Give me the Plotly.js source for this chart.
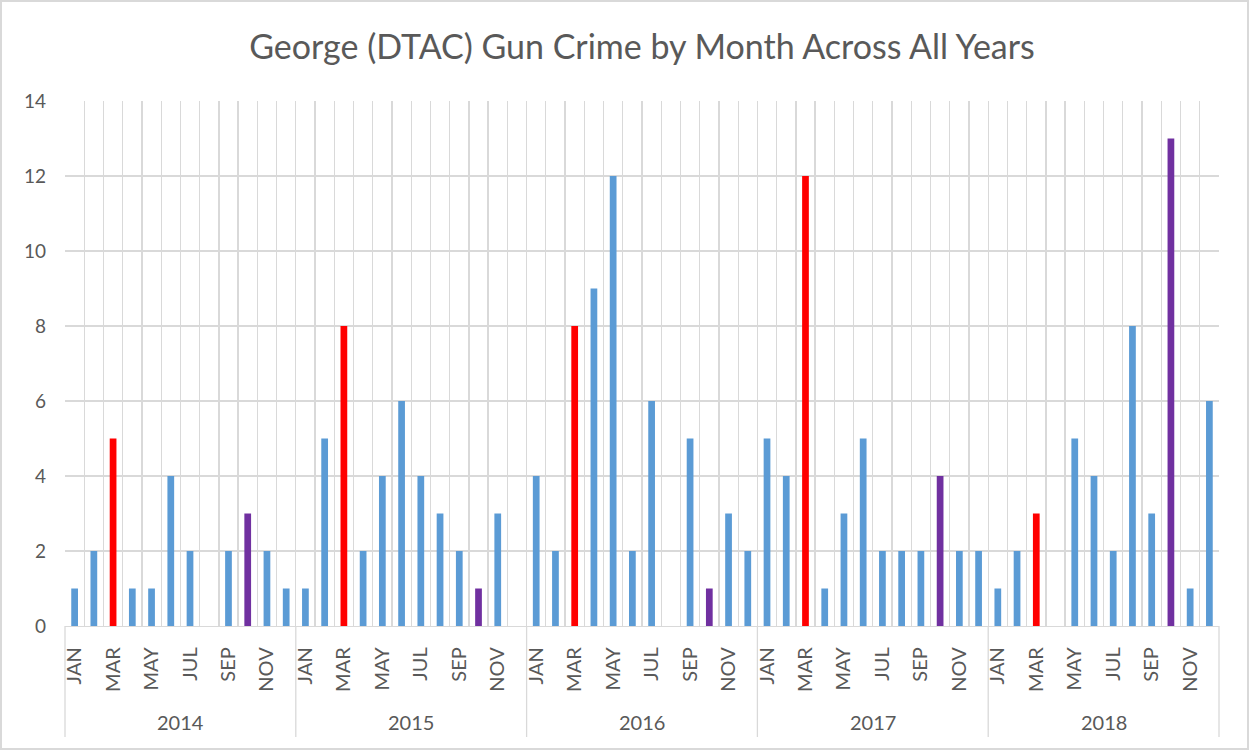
<!DOCTYPE html>
<html>
<head>
<meta charset="utf-8">
<script src="https://cdn.plot.ly/plotly-3.0.1.min.js"></script>
<style>
  html, body { margin: 0; padding: 0; background: #ffffff; }
  #wrap { position: relative; width: 1249px; height: 750px; }
  #chart { position: absolute; left: 0; top: 0; width: 1249px; height: 750px; }
  #frame { position: absolute; left: 0; top: 0; width: 1249px; height: 750px;
           box-sizing: border-box; border: 2px solid #D9D9D9; pointer-events: none; }
</style>
</head>
<body>
<div id="wrap">
  <div id="chart"></div>
  <div id="frame"></div>
</div>
<script>
// Monthly gun crime counts, George (DTAC)
const YEARS  = ['2014', '2015', '2016', '2017', '2018'];
const MONTHS = ['JAN', 'FEB', 'MAR', 'APR', 'MAY', 'JUN', 'JUL', 'AUG', 'SEP', 'OCT', 'NOV', 'DEC'];

const COUNTS_2014 = [1, 2, 5, 1, 1, 4, 2, 0, 2, 3, 2, 1];
const COUNTS_2015 = [1, 5, 8, 2, 4, 6, 4, 3, 2, 1, 3, 0];
const COUNTS_2016 = [4, 2, 8, 9, 12, 2, 6, 0, 5, 1, 3, 2];
const COUNTS_2017 = [5, 4, 12, 1, 3, 5, 2, 2, 2, 4, 2, 2];
const COUNTS_2018 = [1, 2, 3, 0, 5, 4, 2, 8, 3, 13, 1, 6];

// Highlighted months
const MARCH_COLOR   = '#FF0000';
const OCTOBER_COLOR = '#7030A0';
const DEFAULT_COLOR = '#5B9BD5';

const COUNTS = [COUNTS_2014, COUNTS_2015, COUNTS_2016, COUNTS_2017, COUNTS_2018];

const FONT = 'Lato, "Open Sans", sans-serif';
const TEXT_COLOR = '#595959';
const GRID_COLOR = '#D9D9D9';

// Flatten year x month into one running category index
const xs = [], ys = [], colors = [];
COUNTS.forEach((row, yi) => {
  row.forEach((v, mi) => {
    xs.push(yi * MONTHS.length + mi);
    ys.push(v);
    colors.push(MONTHS[mi] === 'MAR' ? MARCH_COLOR : (MONTHS[mi] === 'OCT' ? OCTOBER_COLOR : DEFAULT_COLOR));
  });
});
const nCats = xs.length;

// Month labels on every other month, gridlines on category boundaries
const monthTickVals = [], monthTickText = [];
xs.forEach((x, i) => {
  const mi = i % MONTHS.length;
  if (mi % 2 === 0) { monthTickVals.push(x); monthTickText.push(MONTHS[mi]); }
});
const boundaries = [];
for (let i = 0; i <= nCats; i++) boundaries.push(i - 0.5);

// Year group labels and dividers beneath the month labels
const groupDepth = -111 / 525;
const annotations = YEARS.map((yr, yi) => ({
  text: yr, xref: 'x', yref: 'paper',
  x: yi * MONTHS.length + (MONTHS.length - 1) / 2, y: -96 / 525,
  yanchor: 'middle', xanchor: 'center', showarrow: false,
  font: { family: FONT, size: 20, color: TEXT_COLOR }
}));
const shapes = [];
for (let yi = 0; yi <= YEARS.length; yi++) {
  const edge = (yi === 0 || yi === YEARS.length);
  shapes.push({
    type: 'line',
    xref: edge ? 'x domain' : 'x', yref: 'paper',
    x0: edge ? (yi === 0 ? 0 : 1) : yi * MONTHS.length - 0.5,
    x1: edge ? (yi === 0 ? 0 : 1) : yi * MONTHS.length - 0.5,
    y0: 0, y1: groupDepth,
    line: { color: GRID_COLOR, width: 1.3 }
  });
}

const trace = {
  type: 'bar',
  x: xs, y: ys,
  width: 0.35,
  marker: { color: colors, line: { width: 0 } },
  hoverinfo: 'y'
};

const layout = {
  width: 1249, height: 750,
  margin: { l: 65, r: 30, t: 101, b: 124 },
  paper_bgcolor: '#ffffff', plot_bgcolor: '#ffffff',
  showlegend: false,
  title: {
    text: 'George (DTAC) Gun Crime by Month Across All Years',
    font: { family: FONT, size: 34, color: TEXT_COLOR },
    x: 0.5, xanchor: 'center', xref: 'paper',
    y: 1 - 47 / 750, yanchor: 'middle', yref: 'container'
  },
  xaxis: {
    type: 'linear', range: [-0.5, nCats - 0.5], fixedrange: true,
    tickmode: 'array', tickvals: monthTickVals, ticktext: monthTickText,
    tickangle: -90, ticks: '', ticklabelstandoff: 12,
    tickfont: { family: FONT, size: 20, color: TEXT_COLOR },
    showgrid: false, zeroline: false,
    showline: true, linecolor: GRID_COLOR, linewidth: 1.3,
    minor: { tickmode: 'array', tickvals: boundaries, showgrid: true,
             gridcolor: GRID_COLOR, gridwidth: 1.3, ticks: '' }
  },
  yaxis: {
    range: [0, 14], dtick: 2, tick0: 0, fixedrange: true,
    showgrid: true, gridcolor: GRID_COLOR, gridwidth: 1.3,
    zeroline: false, showline: false,
    ticks: '', ticklabelstandoff: 18,
    tickfont: { family: FONT, size: 19, color: TEXT_COLOR }
  },
  annotations: annotations,
  shapes: shapes
};

Plotly.newPlot('chart', [trace], layout, { displayModeBar: false, staticPlot: true });
</script>
</body>
</html>
